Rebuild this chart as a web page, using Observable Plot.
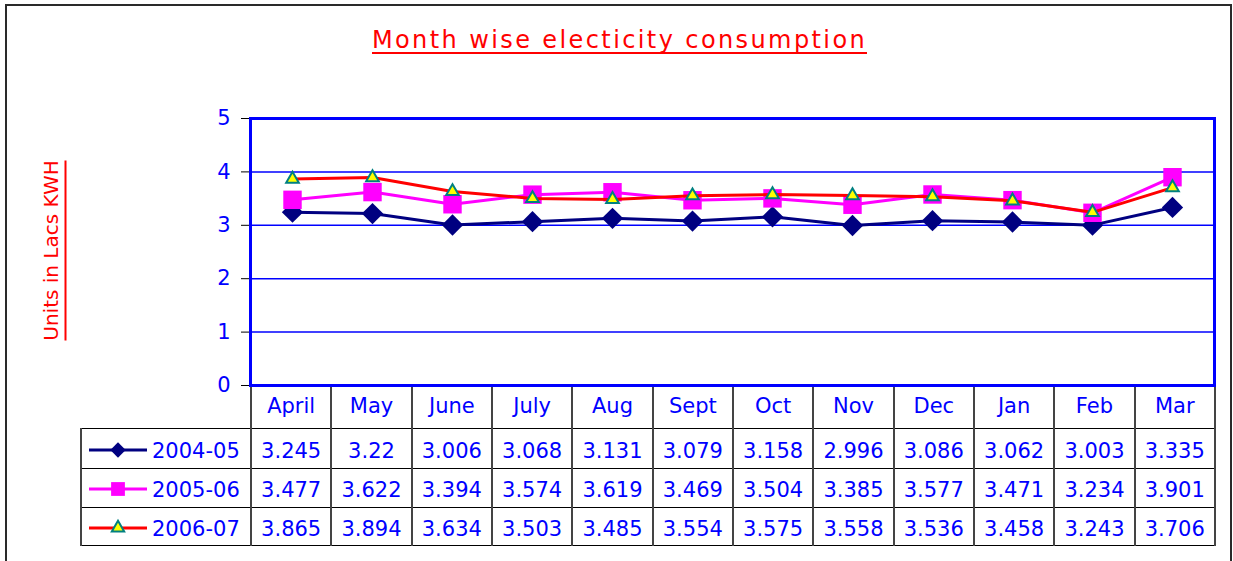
<!DOCTYPE html>
<html>
<head>
<meta charset="utf-8">
<script src="https://cdn.jsdelivr.net/npm/d3@7"></script>
<script src="https://cdn.jsdelivr.net/npm/@observablehq/plot@0.6"></script>
<style>
html,body{margin:0;padding:0;background:#fff;}
#wrap{position:relative;width:1233px;height:561px;overflow:hidden;background:#fff;font-family:"DejaVu Sans",sans-serif;}
#outer{position:absolute;left:5px;top:4px;width:1227px;height:620px;border:2px solid #2a2a2a;box-sizing:border-box;}
#title{position:absolute;left:3px;top:28px;width:1233px;text-align:center;}
#title span{display:inline-block;font-size:24px;line-height:24px;color:#ff0000;letter-spacing:2.4px;border-bottom:2px solid #ff0000;}
#ylabel{position:absolute;left:-97px;top:236.5px;width:300px;height:27px;text-align:center;transform:rotate(-90deg);transform-origin:50% 50%;}
#ylabel span{display:inline-block;font-size:20px;line-height:22px;color:#ff0000;border-bottom:2px solid #ff0000;padding-bottom:3px;}
#chart{position:absolute;left:0;top:0;z-index:2;}
#tbl{position:absolute;left:80px;top:385px;width:1134px;border-collapse:collapse;table-layout:fixed;z-index:1;}
#tbl td{border-top:1px solid #000;border-bottom:1px solid #000;border-left:2px solid #444;border-right:2px solid #444;text-align:center;color:#0000ff;font-size:21px;padding:0;white-space:nowrap;overflow:hidden;}
#tbl tr.hdr td{border-top:none;}
#tbl tr.hdr td.blank{border-left:none;border-top:none;}
#tbl tr.data td{padding-top:5px;}
#tbl td.key{text-align:left;padding-left:7px;}
#tbl td.key svg{vertical-align:middle;margin-right:5px;position:relative;top:-2px;}
</style>
</head>
<body>
<div id="wrap">
  <div id="outer"></div>
  <div id="title"><span></span></div>
  <div id="ylabel"><span></span></div>
  <div id="chart"></div>
  <table id="tbl"></table>
</div>
<script>
// ---- data ----
const titleText = "Month wise electicity consumption";
const yLabelText = "Units in Lacs KWH";
const months = ["April","May","June","July","Aug","Sept","Oct","Nov","Dec","Jan","Feb","Mar"];
const seriesNames = ["2004-05","2005-06","2006-07"];
const values0405 = [3.245,3.22,3.006,3.068,3.131,3.079,3.158,2.996,3.086,3.062,3.003,3.335];
const values0506 = [3.477,3.622,3.394,3.574,3.619,3.469,3.504,3.385,3.577,3.471,3.234,3.901];
const values0607 = [3.865,3.894,3.634,3.503,3.485,3.554,3.575,3.558,3.536,3.458,3.243,3.706];
const yTicks = [0,1,2,3,4,5];
const gridTicks = [1,2,3,4];

// ---- styles ----
const seriesValues = [values0405, values0506, values0607];
const seriesStyles = [
  {stroke:"#000080", symbol:"diamond2", r:9.6, fill:"#000080", mstroke:"none", msw:0, keyType:d3.symbolDiamond2, keySize:150},
  {stroke:"#ff00ff", symbol:"square", r:10.4, fill:"#ff00ff", mstroke:"none", msw:0, keyType:d3.symbolSquare, keySize:190},
  {stroke:"#ff0000", symbol:"triangle", r:4.7, fill:"#ffff00", mstroke:"#008080", msw:2, keyType:d3.symbolTriangle, keySize:66}
];

document.querySelector("#title span").textContent = titleText;
document.querySelector("#ylabel span").textContent = yLabelText;

const seriesMarks = seriesValues.flatMap((vals, k) => {
  const st = seriesStyles[k];
  const data = months.map((m, i) => ({month: m, value: vals[i], series: seriesNames[k]}));
  return [
    Plot.line(data, {x: "month", y: "value", stroke: st.stroke, strokeWidth: 3}),
    Plot.dot(data, {x: "month", y: "value", symbol: st.symbol, r: st.r, fill: st.fill, stroke: st.mstroke, strokeWidth: st.msw})
  ];
});

const chart = Plot.plot({
  width: 1233,
  height: 389,
  marginTop: 118,
  marginLeft: 250,
  marginRight: 19,
  marginBottom: 4,
  style: {fontFamily: '"DejaVu Sans", sans-serif', background: "transparent", overflow: "visible"},
  x: {type: "point", domain: months, padding: 0.5, axis: null},
  y: {domain: [0, 5]},
  marks: [
    Plot.ruleY(gridTicks, {stroke: "#0000ff", strokeWidth: 1.5}),
    Plot.axisY(yTicks, {tickSize: 9, tickPadding: 11, fontSize: 21, stroke: "#000", fill: "#0000ff", label: null, tickFormat: d => String(d)}),
    Plot.frame({stroke: "#0000ff", strokeWidth: 3}),
    ...seriesMarks
  ]
});
document.getElementById("chart").appendChild(chart);

// ---- data table below the plot ----
const tbl = d3.select("#tbl");
const cg = tbl.append("colgroup");
cg.append("col").style("width", "170px");
months.forEach(() => cg.append("col").style("width", (964 / months.length) + "px"));

const hdr = tbl.append("tr").attr("class", "hdr").style("height", "43px");
hdr.append("td").attr("class", "blank");
months.forEach(m => hdr.append("td").text(m));

const rowHeights = [40, 39, 38];
seriesNames.forEach((name, k) => {
  const st = seriesStyles[k];
  const tr = tbl.append("tr").attr("class", "data").style("height", rowHeights[k] + "px");
  const key = tr.append("td").attr("class", "key");
  const svg = key.append("svg").attr("width", 58).attr("height", 20);
  svg.append("line").attr("x1", 0).attr("x2", 58).attr("y1", 10).attr("y2", 10)
    .attr("stroke", st.stroke).attr("stroke-width", 3);
  svg.append("path").attr("transform", "translate(29,10)")
    .attr("d", d3.symbol(st.keyType, st.keySize)())
    .attr("fill", st.fill)
    .attr("stroke", st.mstroke === "none" ? null : st.mstroke)
    .attr("stroke-width", st.msw || null);
  key.append("span").text(name);
  seriesValues[k].forEach(v => tr.append("td").text(String(v)));
});
</script>
</body>
</html>
